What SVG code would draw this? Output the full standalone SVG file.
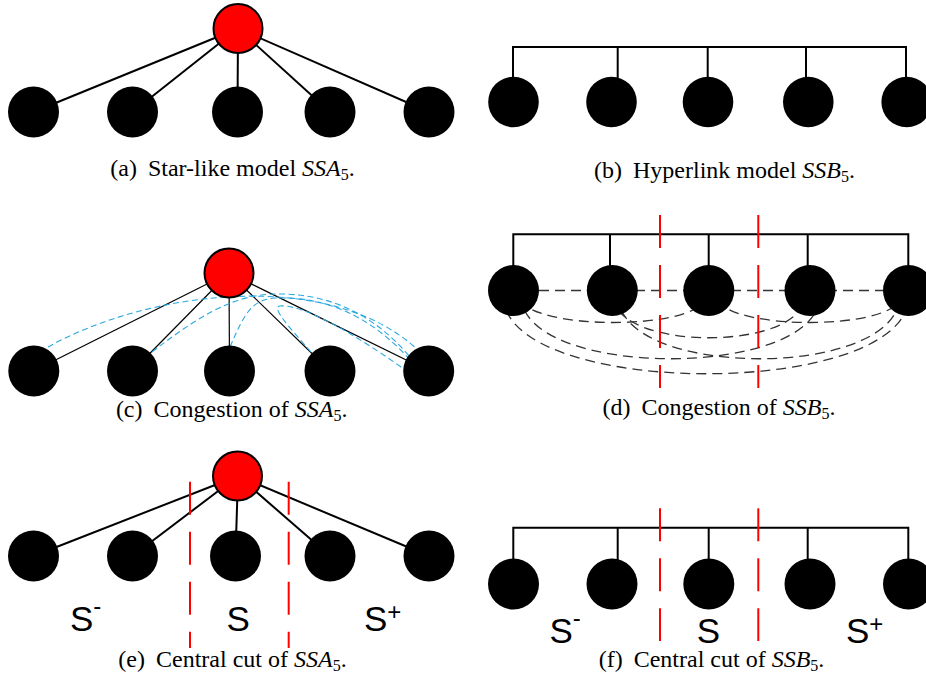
<svg xmlns="http://www.w3.org/2000/svg" width="926" height="677" viewBox="0 0 926 677">
  <style>
    .leaf { fill: #000; }
    .hub { fill: #ff0000; stroke: #000; stroke-width: 2; }
    .edge { stroke: #000; stroke-width: 2; fill: none; }
    .thin { stroke: #000; stroke-width: 1.2; fill: none; }
    .flow { stroke: #2aa8e0; stroke-width: 1.1; fill: none; stroke-dasharray: 6 3.5; }
    .path2 { stroke: #333; stroke-width: 1.3; fill: none; stroke-dasharray: 10 6; }
    .cut { stroke: #ff0000; stroke-width: 2; fill: none; stroke-dasharray: 33 17; }
    .cap { font-family: "Liberation Serif", "Times New Roman", serif; font-size: 24px; fill: #000; }
    .cap .m { font-style: italic; }
    .cap .sub { font-size: 16px; }
    .lab { font-family: "Liberation Sans", Arial, sans-serif; font-size: 35px; fill: #000; }
    .lab .sup { font-size: 24px; }
  </style>

  <!-- (a) star-like model -->
  <g id="panel-a">
    <g id="a-edges">
      <line class="edge" x1="238" y1="28.5" x2="33.5" y2="112"/>
      <line class="edge" x1="238" y1="28.5" x2="132.5" y2="112"/>
      <line class="edge" x1="238" y1="28.5" x2="237.5" y2="112"/>
      <line class="edge" x1="238" y1="28.5" x2="330" y2="112"/>
      <line class="edge" x1="238" y1="28.5" x2="429" y2="112"/>
    </g>
    <g id="a-hub"><circle class="hub" cx="238" cy="28.5" r="24.5"/></g>
    <g id="a-n1"><circle class="leaf" cx="33.5" cy="112" r="25.5"/></g>
    <g id="a-n2"><circle class="leaf" cx="132.5" cy="112" r="25.5"/></g>
    <g id="a-n3"><circle class="leaf" cx="237.5" cy="112" r="25.5"/></g>
    <g id="a-n4"><circle class="leaf" cx="330" cy="112" r="25.5"/></g>
    <g id="a-n5"><circle class="leaf" cx="429" cy="112" r="25.5"/></g>
    <text class="cap" x="232.5" y="176" text-anchor="middle">(a) <tspan dx="5">Star-like model </tspan><tspan class="m">SSA</tspan><tspan class="sub" dy="4">5</tspan><tspan dy="-4">.</tspan></text>
  </g>

  <!-- (b) hyperlink model -->
  <g id="panel-b">
    <g id="b-edges">
      <polyline class="edge" points="513,80 513,47 906,47 906,80"/>
      <line class="edge" x1="617.7" y1="47" x2="617.7" y2="80"/>
      <line class="edge" x1="707.7" y1="47" x2="707.7" y2="80"/>
      <line class="edge" x1="806" y1="47" x2="806" y2="80"/>
    </g>
    <g id="b-n1"><circle class="leaf" cx="513.5" cy="102" r="25.3"/></g>
    <g id="b-n2"><circle class="leaf" cx="611.5" cy="102" r="25.3"/></g>
    <g id="b-n3"><circle class="leaf" cx="708" cy="102" r="25.3"/></g>
    <g id="b-n4"><circle class="leaf" cx="808.3" cy="102" r="25.3"/></g>
    <g id="b-n5"><circle class="leaf" cx="906.7" cy="102" r="25.3"/></g>
    <text class="cap" x="724.5" y="178" text-anchor="middle">(b) <tspan dx="5">Hyperlink model </tspan><tspan class="m">SSB</tspan><tspan class="sub" dy="4">5</tspan><tspan dy="-4">.</tspan></text>
  </g>

  <!-- (c) congestion of the star model -->
  <g id="panel-c">
    <g id="c-edges">
      <line class="thin" x1="229" y1="273" x2="33.5" y2="371"/>
      <line class="thin" x1="229" y1="273" x2="132.5" y2="371"/>
      <line class="thin" x1="229" y1="273" x2="229.5" y2="371"/>
      <line class="thin" x1="229" y1="273" x2="330" y2="371"/>
      <line class="thin" x1="229" y1="273" x2="428.7" y2="371"/>
    </g>
    <g id="c-flows">
      <path class="flow" d="M48 347 C150 290 330 268 418 350"/>
      <path class="flow" d="M152 352 C215 303 245 294 280 294 C330 294 375 315 410 357"/>
      <path class="flow" d="M230 347 C245 312 252 300 275 298 C330 296 375 320 412 362"/>
      <path class="flow" d="M311 352 C292 330 270 307 280 306 C305 304 360 338 404 369"/>
    </g>
    <g id="c-hub"><circle class="hub" cx="229" cy="273" r="24.5"/></g>
    <g id="c-n1"><circle class="leaf" cx="33.8" cy="371" r="25.5"/></g>
    <g id="c-n2"><circle class="leaf" cx="132.5" cy="371" r="25.5"/></g>
    <g id="c-n3"><circle class="leaf" cx="229.5" cy="371" r="25.5"/></g>
    <g id="c-n4"><circle class="leaf" cx="330" cy="371" r="25.5"/></g>
    <g id="c-n5"><circle class="leaf" cx="428.7" cy="371" r="25.5"/></g>
    <text class="cap" x="231.7" y="417" text-anchor="middle">(c) <tspan dx="5">Congestion of </tspan><tspan class="m">SSA</tspan><tspan class="sub" dy="4">5</tspan><tspan dy="-4">.</tspan></text>
  </g>

  <!-- (d) congestion of the hyperlink model -->
  <g id="panel-d">
    <g id="d-edges">
      <polyline class="edge" points="513.3,270 513.3,234.3 908.3,234.3 908.3,270"/>
      <line class="edge" x1="610" y1="234.3" x2="610" y2="270"/>
      <line class="edge" x1="708.7" y1="234.3" x2="708.7" y2="270"/>
      <line class="edge" x1="807.7" y1="234.3" x2="807.7" y2="270"/>
    </g>
    <g id="d-paths">
      <line class="path2" x1="539" y1="290.5" x2="883" y2="290.5"/>
      <path class="path2" d="M520 300 C538 330 690 330 705 300"/>
      <path class="path2" d="M717 300 C735 330 885 330 900 300"/>
      <path class="path2" d="M613 295 C613 352 805 352 805 295"/>
      <path class="path2" d="M618 295 C618 380 900 380 900 295"/>
      <path class="path2" d="M521 295 C521 380 820 380 820 295"/>
      <path class="path2" d="M503 295 C503 400 910 400 909 295"/>
    </g>
    <g id="d-n1"><circle class="leaf" cx="513.5" cy="290.5" r="25.5"/></g>
    <g id="d-n2"><circle class="leaf" cx="612.3" cy="290.5" r="25.5"/></g>
    <g id="d-n3"><circle class="leaf" cx="708.8" cy="290.5" r="25.5"/></g>
    <g id="d-n4"><circle class="leaf" cx="810" cy="290.5" r="25.5"/></g>
    <g id="d-n5"><circle class="leaf" cx="908.5" cy="290.5" r="25.5"/></g>
    <g id="d-cuts">
      <line class="cut" x1="660" y1="215" x2="660" y2="388"/>
      <line class="cut" x1="758.3" y1="215" x2="758.3" y2="388"/>
    </g>
    <text class="cap" x="719" y="415" text-anchor="middle">(d) <tspan dx="5">Congestion of </tspan><tspan class="m">SSB</tspan><tspan class="sub" dy="4">5</tspan><tspan dy="-4">.</tspan></text>
  </g>

  <!-- (e) central cut of the star model -->
  <g id="panel-e">
    <g id="e-edges">
      <line class="edge" x1="238" y1="476" x2="33.5" y2="556"/>
      <line class="edge" x1="238" y1="476" x2="132.5" y2="556"/>
      <line class="edge" x1="238" y1="476" x2="235.5" y2="556"/>
      <line class="edge" x1="238" y1="476" x2="330" y2="556"/>
      <line class="edge" x1="238" y1="476" x2="429" y2="556"/>
    </g>
    <g id="e-hub"><circle class="hub" cx="237.5" cy="476" r="24.5"/></g>
    <g id="e-n1"><circle class="leaf" cx="33.5" cy="556" r="25.5"/></g>
    <g id="e-n2"><circle class="leaf" cx="132.5" cy="556" r="25.5"/></g>
    <g id="e-n3"><circle class="leaf" cx="235.5" cy="556" r="25.5"/></g>
    <g id="e-n4"><circle class="leaf" cx="330" cy="556" r="25.5"/></g>
    <g id="e-n5"><circle class="leaf" cx="429" cy="556" r="25.5"/></g>
    <g id="e-cuts">
      <line class="cut" x1="190" y1="481.7" x2="190" y2="648"/>
      <line class="cut" x1="288.7" y1="481.7" x2="288.7" y2="648"/>
    </g>
    <text class="lab" x="70" y="631">S<tspan class="sup" dy="-17">-</tspan></text>
    <text class="lab" x="238.3" y="631" text-anchor="middle">S</text>
    <text class="lab" x="364" y="631">S<tspan class="sup" dy="-11">+</tspan></text>
    <text class="cap" x="232.5" y="666.5" text-anchor="middle">(e) <tspan dx="5">Central cut of </tspan><tspan class="m">SSA</tspan><tspan class="sub" dy="4">5</tspan><tspan dy="-4">.</tspan></text>
  </g>

  <!-- (f) central cut of the hyperlink model -->
  <g id="panel-f">
    <g id="f-edges">
      <polyline class="edge" points="513.3,562 513.3,527.7 908.3,527.7 908.3,562"/>
      <line class="edge" x1="617.7" y1="527.7" x2="617.7" y2="562"/>
      <line class="edge" x1="708.7" y1="527.7" x2="708.7" y2="562"/>
      <line class="edge" x1="807.7" y1="527.7" x2="807.7" y2="562"/>
    </g>
    <g id="f-n1"><circle class="leaf" cx="513.5" cy="584" r="25.5"/></g>
    <g id="f-n2"><circle class="leaf" cx="612" cy="584" r="25.5"/></g>
    <g id="f-n3"><circle class="leaf" cx="708.8" cy="584" r="25.5"/></g>
    <g id="f-n4"><circle class="leaf" cx="810" cy="584" r="25.5"/></g>
    <g id="f-n5"><circle class="leaf" cx="908.5" cy="584" r="25.5"/></g>
    <g id="f-cuts">
      <line class="cut" x1="660" y1="508.3" x2="660" y2="641"/>
      <line class="cut" x1="758.3" y1="508.3" x2="758.3" y2="641"/>
    </g>
    <text class="lab" x="549.5" y="642.5">S<tspan class="sup" dy="-17">-</tspan></text>
    <text class="lab" x="708.5" y="642.5" text-anchor="middle">S</text>
    <text class="lab" x="846" y="642.5">S<tspan class="sup" dy="-11">+</tspan></text>
    <text class="cap" x="711.5" y="667" text-anchor="middle">(f) <tspan dx="5">Central cut of </tspan><tspan class="m">SSB</tspan><tspan class="sub" dy="4">5</tspan><tspan dy="-4">.</tspan></text>
  </g>
</svg>
